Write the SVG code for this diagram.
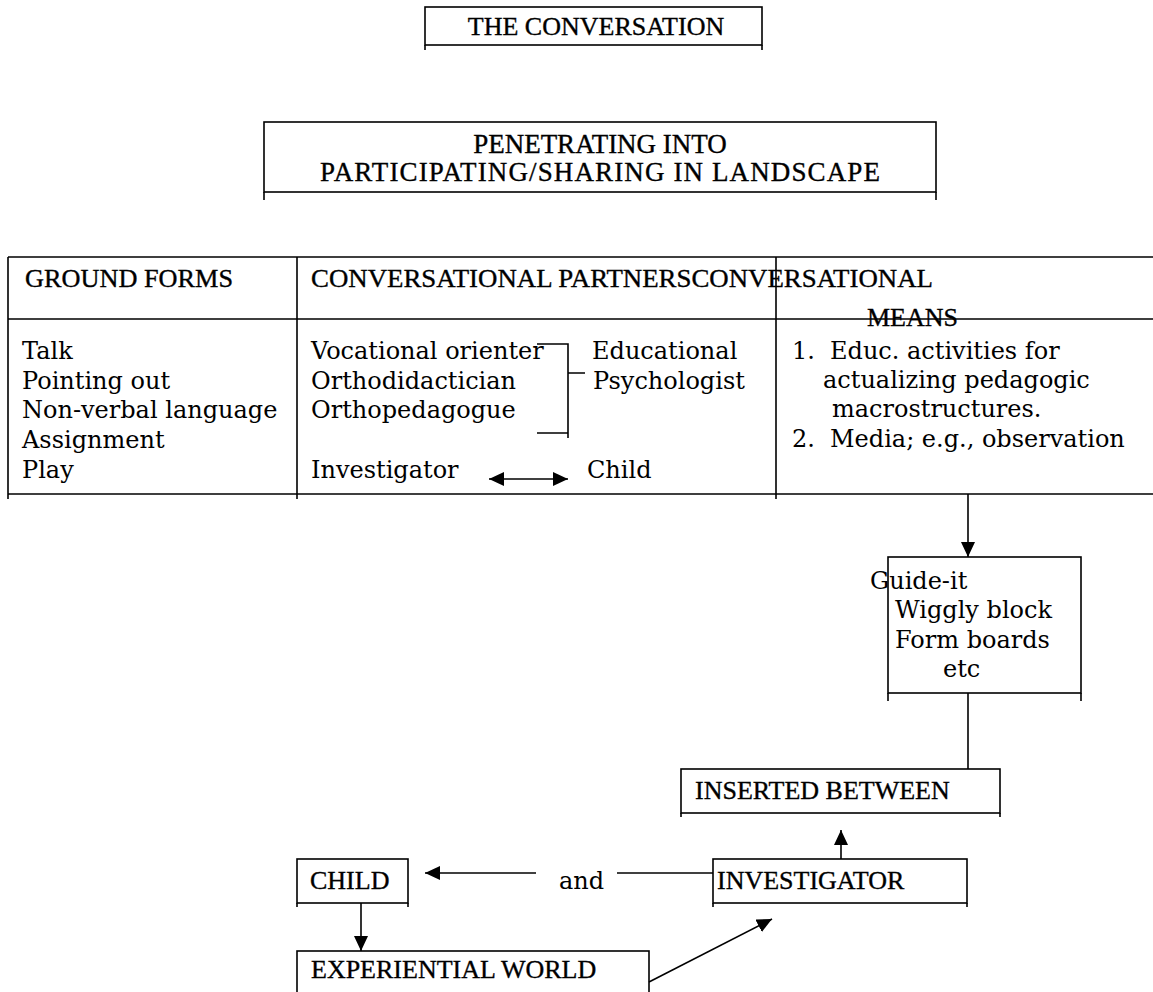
<svg xmlns="http://www.w3.org/2000/svg" width="1153" height="992" viewBox="0 0 1153 992">
  <style>
    .ln { stroke:#000; stroke-width:1.6; fill:none; }
    .hd { font-family:"Liberation Serif","Times New Roman",serif; font-size:26px; fill:#000; stroke:#000; stroke-width:0.35; }
    .bd { font-family:"DejaVu Serif","Liberation Serif",serif; font-size:24px; fill:#000; }
    .mid { text-anchor:middle; }
  </style>
  <defs>
    <marker id="ah" markerUnits="userSpaceOnUse" markerWidth="15" markerHeight="14" refX="15" refY="7" orient="auto-start-reverse">
      <path d="M0,0 L15,7 L0,14 z" fill="#000"/>
    </marker>
  </defs>
  <rect width="1153" height="992" fill="#fff"/>

  <g id="title">
    <rect class="ln" x="425" y="7" width="337" height="38"/>
    <path class="ln" d="M425,45 V50 M762,45 V50"/>
    <text class="hd mid" x="596" y="35">THE CONVERSATION</text>
  </g>

  <g id="penetrating">
    <rect class="ln" x="264" y="122" width="672" height="70"/>
    <path class="ln" d="M264,192 V200 M936,192 V200"/>
    <text class="hd mid" x="600" y="153" style="font-size:27px">PENETRATING INTO</text>
    <text class="hd mid" x="600" y="181" style="font-size:27px" textLength="560" lengthAdjust="spacing">PARTICIPATING/SHARING IN LANDSCAPE</text>
  </g>

  <g id="table">
    <path class="ln" d="M8,257 H1153 M8,319 H1153 M8,494 H1153 M8,257 V499 M297,257 V499 M776,257 V499"/>
    <text class="hd" x="25" y="287" textLength="208" lengthAdjust="spacingAndGlyphs">GROUND FORMS</text>
    <text class="hd" x="311" y="287" textLength="622" lengthAdjust="spacingAndGlyphs">CONVERSATIONAL PARTNERSCONVERSATIONAL</text>
    <text class="hd" x="867" y="326">MEANS</text>

    <text class="bd" x="22" y="359">Talk</text>
    <text class="bd" x="22" y="389">Pointing out</text>
    <text class="bd" x="22" y="418">Non-verbal language</text>
    <text class="bd" x="22" y="448">Assignment</text>
    <text class="bd" x="22" y="478">Play</text>

    <text class="bd" x="311" y="359">Vocational orienter</text>
    <text class="bd" x="311" y="389">Orthodidactician</text>
    <text class="bd" x="311" y="418">Orthopedagogue</text>
    <text class="bd" x="311" y="478">Investigator</text>
    <path class="ln" d="M537,344 H568 V438 M537,433 H568 M568,373 H585"/>
    <text class="bd" x="592" y="359">Educational</text>
    <text class="bd" x="593" y="389">Psychologist</text>
    <text class="bd" x="587" y="478">Child</text>
    <line class="ln" x1="489" y1="479" x2="568" y2="479" marker-start="url(#ah)" marker-end="url(#ah)"/>

    <text class="bd" x="792" y="359">1.</text>
    <text class="bd" x="830" y="359">Educ. activities for</text>
    <text class="bd" x="823" y="388">actualizing pedagogic</text>
    <text class="bd" x="832" y="417">macrostructures.</text>
    <text class="bd" x="792" y="447">2.</text>
    <text class="bd" x="830" y="447">Media; e.g., observation</text>
  </g>

  <g id="guide">
    <rect class="ln" x="888" y="557" width="193" height="136"/>
    <path class="ln" d="M888,693 V701 M1081,693 V701"/>
    <text class="bd" x="870" y="589">Guide-it</text>
    <text class="bd" x="895" y="618">Wiggly block</text>
    <text class="bd" x="895" y="648">Form boards</text>
    <text class="bd" x="943" y="677">etc</text>
  </g>

  <g id="inserted">
    <rect class="ln" x="681" y="769" width="319" height="44"/>
    <path class="ln" d="M681,813 V817 M1000,813 V817"/>
    <text class="hd" x="695" y="799">INSERTED BETWEEN</text>
  </g>

  <g id="child">
    <rect class="ln" x="297" y="859" width="111" height="44"/>
    <path class="ln" d="M297,903 V907 M408,903 V907"/>
    <text class="hd" x="310" y="889">CHILD</text>
  </g>

  <g id="investigator">
    <rect class="ln" x="713" y="859" width="254" height="44"/>
    <path class="ln" d="M713,903 V907 M967,903 V907"/>
    <text class="hd" x="717" y="889">INVESTIGATOR</text>
  </g>

  <g id="experiential">
    <rect class="ln" x="297" y="951" width="352" height="60"/>
    <text class="hd" x="311" y="978">EXPERIENTIAL WORLD</text>
  </g>

  <g id="and-label">
    <text class="bd" x="559" y="889">and</text>
  </g>

  <g id="connectors">
    <line class="ln" x1="968" y1="494" x2="968" y2="557" marker-end="url(#ah)"/>
    <line class="ln" x1="968" y1="693" x2="968" y2="769"/>
    <line class="ln" x1="841" y1="859" x2="841" y2="830" marker-end="url(#ah)"/>
    <line class="ln" x1="713" y1="873" x2="617" y2="873"/>
    <line class="ln" x1="536" y1="873" x2="425" y2="873" marker-end="url(#ah)"/>
    <line class="ln" x1="361" y1="903" x2="361" y2="951" marker-end="url(#ah)"/>
    <line class="ln" x1="649" y1="982" x2="772" y2="919" marker-end="url(#ah)"/>
  </g>
</svg>
